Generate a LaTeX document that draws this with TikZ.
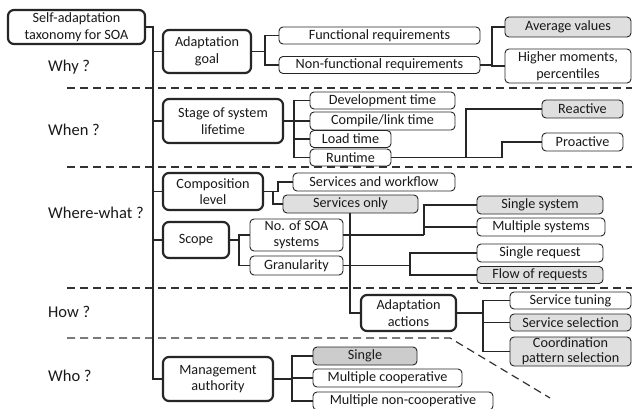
\documentclass[tikz,border=0pt]{standalone}
\usepackage{fontspec}
\setmainfont{Carlito}
\begin{document}
\begin{tikzpicture}[x=1pt,y=-1pt,
  base/.style={rounded corners=4pt, align=center, inner sep=0pt, font=\fontsize{14.2}{16.5}\selectfont, text=black!90},
  thinbox/.style={base, draw=black!85, line width=0.9pt, fill=white},
  graybox/.style={thinbox, fill=gray!25},
  darkbox/.style={thinbox, fill=gray!40},
  thickbox/.style={base, draw=black!85, line width=2.2pt, rounded corners=6pt, fill=white},
  conn/.style={draw=black!85, line width=1.2pt},
  sep/.style={draw=black!80, line width=1.2pt, dash pattern=on 8pt off 5pt},
  lab/.style={anchor=west, inner sep=0pt, font=\fontsize{16.5}{18}\selectfont, text=black!90}]
\useasboundingbox (0,0) rectangle (632,409);
\fill[white] (0,0) rectangle (632,409);

% separators
\draw[sep] (67,88) -- (632,88);
\draw[sep] (67,167) -- (632,167);
\draw[sep] (67,288) -- (632,288);
\draw[sep] (67,338) -- (450,338) -- (550,398);

% labels
\node[lab] (why) at (48,67) {Why ?};
\node[lab] (when) at (48,130) {When ?};
\node[lab] (where) at (48,213) {Where-what ?};
\node[lab] (how) at (48,312) {How ?};
\node[lab] (who) at (48,376) {Who ?};

% nodes
\node[thickbox, minimum width=137pt, minimum height=34pt] (root) at (76.5,27) {Self-adaptation\\taxonomy for SOA};
\node[thickbox, minimum width=88pt, minimum height=43pt] (ag) at (207,51.5) {Adaptation\\goal};
\node[thinbox, minimum width=201pt, minimum height=17pt] (fr) at (379.5,35.5) {Functional requirements};
\node[thinbox, minimum width=201pt, minimum height=17pt] (nfr) at (379.5,65) {Non-functional requirements};
\node[graybox, minimum width=126pt, minimum height=20pt] (av) at (568,27) {Average values};
\node[thinbox, minimum width=126pt, minimum height=34pt] (hm) at (568,66) {Higher moments,\\percentiles};

\node[thickbox, minimum width=120pt, minimum height=44pt] (st) at (223,121) {Stage of system\\lifetime};
\node[thinbox, minimum width=145pt, minimum height=17pt] (dt) at (382.5,100.5) {Development time};
\node[thinbox, minimum width=145pt, minimum height=18pt] (ct) at (382.5,121) {Compile/link time};
\node[thinbox, minimum width=81pt, minimum height=17pt] (lt) at (350.5,139) {Load time};
\node[thinbox, minimum width=81pt, minimum height=17pt] (rt) at (350.5,157.5) {Runtime};
\node[graybox, minimum width=81pt, minimum height=18pt] (re) at (582.5,109) {Reactive};
\node[thinbox, minimum width=81pt, minimum height=18pt] (pr) at (582.5,142) {Proactive};

\node[thickbox, minimum width=100pt, minimum height=37pt] (cl) at (213,191.5) {Composition\\level};
\node[thinbox, minimum width=162pt, minimum height=18pt] (sw) at (374,182) {Services and workflow};
\node[graybox, minimum width=135pt, minimum height=18pt] (so) at (350.5,204) {Services only};
\node[thickbox, minimum width=66pt, minimum height=36pt] (sc) at (196,240) {Scope};
\node[thinbox, minimum width=93pt, minimum height=32pt] (ns) at (296.5,235) {No. of SOA\\systems};
\node[thinbox, minimum width=93pt, minimum height=19pt] (gr) at (296.5,265.5) {Granularity};
\node[graybox, minimum width=126pt, minimum height=18pt] (ss) at (540,205) {Single system};
\node[thinbox, minimum width=128pt, minimum height=18pt] (ms) at (541,227) {Multiple systems};
\node[thinbox, minimum width=126pt, minimum height=18pt] (sr) at (540,253) {Single request};
\node[graybox, minimum width=126pt, minimum height=17pt] (fl) at (540,275) {Flow of requests};

\node[thickbox, minimum width=95pt, minimum height=36pt] (aa) at (408.5,313) {Adaptation\\actions};
\node[thinbox, minimum width=121pt, minimum height=17pt] (stn) at (570.5,300.5) {Service tuning};
\node[graybox, minimum width=121pt, minimum height=17pt] (ssl) at (570.5,322.5) {Service selection};
\node[graybox, minimum width=121pt, minimum height=29pt, font=\fontsize{14.2}{15}\selectfont] (cps) at (570.5,351.5) {Coordination\\pattern selection};

\node[thickbox, minimum width=110pt, minimum height=44pt] (ma) at (218,379) {Management\\authority};
\node[darkbox, minimum width=104pt, minimum height=18pt] (sg) at (365,356) {Single};
\node[thinbox, minimum width=149pt, minimum height=18pt] (mc) at (387.5,378) {Multiple cooperative};
\node[thinbox, minimum width=180pt, minimum height=18pt] (mn) at (403,401) {Multiple non-cooperative};

% trunk
\coordinate (tk) at (153,27);
\draw[conn] (root.east) -- (tk) |- (ma.west);
\draw[conn] (tk |- ag.west) -- (ag.west);
\draw[conn] (tk |- st.west) -- (st.west);
\draw[conn] (tk |- cl.west) -- (cl.west);
\draw[conn] (tk |- sc.west) -- (sc.west);

% adaptation goal
\coordinate (agj) at (265,51.5);
\draw[conn] (ag.east) -- (agj);
\draw[conn] (agj) |- (fr.west);
\draw[conn] (agj) |- (nfr.west);
\coordinate (nfj) at (492,65);
\draw[conn] (nfr.east) -- (nfj);
\draw[conn] (nfj) |- (av.west);
\draw[conn] (nfj) |- (hm.west);

% stage
\coordinate (stj) at (294,121);
\draw[conn] (st.east) -- (stj);
\draw[conn] (stj) |- (dt.west);
\draw[conn] (stj) |- (ct.west);
\draw[conn] (stj) |- (lt.west);
\draw[conn] (stj) |- (rt.west);
\coordinate (rtj) at (466,157.5);
\coordinate (rtk) at (502,157.5);
\draw[conn] (rt.east) -- (rtk) |- (pr.west);
\draw[conn] (rtj) |- (re.west);

% composition
\coordinate (clj) at (273,191.5);
\coordinate (clk) at (278,191.5);
\draw[conn] (cl.east) -- (clk);
\draw[conn] (clk) |- (sw.west);
\draw[conn] (clj) |- (so.west);
\draw[conn] (so.south -| 350,0) |- (aa.west);

% scope
\coordinate (scj) at (239,240);
\draw[conn] (sc.east) -- (scj);
\draw[conn] (scj) |- (ns.west);
\draw[conn] (scj) |- (gr.west);
\coordinate (nsj) at (424,235);
\draw[conn] (ns.east) -- (nsj);
\draw[conn] (nsj) |- (ss.west);
\draw[conn] (nsj) |- (ms.west);
\coordinate (grj) at (410,265.5);
\draw[conn] (gr.east) -- (grj);
\draw[conn] (grj) |- (sr.west);
\draw[conn] (grj) |- (fl.west);

% adaptation actions
\coordinate (aaj) at (483,313);
\draw[conn] (aa.east) -- (aaj);
\draw[conn] (aaj) |- (stn.west);
\draw[conn] (aaj) |- (ssl.west);
\draw[conn] (aaj) |- (cps.west);

% management
\coordinate (maj) at (292,379);
\draw[conn] (ma.east) -- (maj);
\draw[conn] (maj) |- (sg.west);
\draw[conn] (maj) |- (mc.west);
\draw[conn] (maj) |- (mn.west);
\end{tikzpicture}
\end{document}
